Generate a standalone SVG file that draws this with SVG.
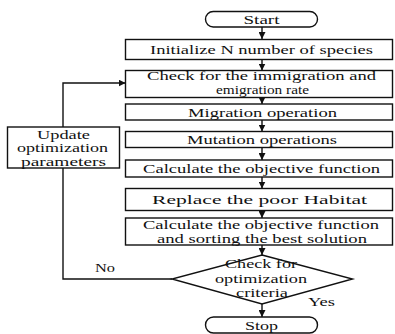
<svg xmlns="http://www.w3.org/2000/svg" width="395" height="334" viewBox="0 0 395 334">
<defs>
<marker id="ah" viewBox="0 0 10 10" refX="10" refY="5" markerWidth="7" markerHeight="7" markerUnits="userSpaceOnUse" orient="auto">
<path d="M0,0 L10,5 L0,10 z" fill="#111"/>
</marker>
<style>
.box{fill:#fff;stroke:#111;stroke-width:1.4}
.t{font-size:12.5px;fill:#111;text-anchor:middle}
.s{font-size:11.5px}
.c{fill:none;stroke:#111;stroke-width:1.4}
</style>
</defs>
<rect width="395" height="334" fill="#fff"/>
<g font-family="Liberation Serif, Times New Roman, DejaVu Serif, serif">
<g id="connectors">
<line class="c" x1="262" y1="27" x2="262" y2="39" marker-end="url(#ah)"/>
<line class="c" x1="262" y1="59.5" x2="262" y2="70.5" marker-end="url(#ah)"/>
<line class="c" x1="262" y1="97.5" x2="262" y2="104" marker-end="url(#ah)"/>
<line class="c" x1="262" y1="120" x2="262" y2="131.5" marker-end="url(#ah)"/>
<line class="c" x1="262" y1="147.5" x2="262" y2="160" marker-end="url(#ah)"/>
<line class="c" x1="262" y1="177" x2="262" y2="188.5" marker-end="url(#ah)"/>
<line class="c" x1="262" y1="210.5" x2="262" y2="218" marker-end="url(#ah)"/>
<line class="c" x1="262" y1="245" x2="262" y2="255" marker-end="url(#ah)"/>
<line class="c" x1="262" y1="304" x2="262" y2="317" marker-end="url(#ah)"/>
<polyline class="c" points="172,279 63,279 63,168"/>
<polyline class="c" points="63,127 63,83 125.5,83" marker-end="url(#ah)"/>
<text class="t" x="105" y="272" textLength="20" lengthAdjust="spacingAndGlyphs">No</text>
<text class="t" x="321.5" y="306" textLength="27" lengthAdjust="spacingAndGlyphs">Yes</text>
</g>
<g id="start">
<rect class="box" x="205.5" y="11.5" width="112" height="15.5" rx="7.75"/>
<text class="t" x="261.5" y="23.5" textLength="36" lengthAdjust="spacingAndGlyphs">Start</text>
</g>
<g id="init">
<rect class="box" x="125.5" y="39.5" width="267" height="20"/>
<text class="t" x="261.5" y="54" textLength="223" lengthAdjust="spacingAndGlyphs">Initialize N number of species</text>
</g>
<g id="check">
<rect class="box" x="125.5" y="70.5" width="267" height="27"/>
<text class="t" x="261.5" y="80" textLength="229" lengthAdjust="spacingAndGlyphs">Check for the immigration and</text>
<text class="t" x="262.5" y="94" textLength="93" lengthAdjust="spacingAndGlyphs">emigration rate</text>
</g>
<g id="migration">
<rect class="box" x="125.5" y="104" width="267" height="16"/>
<text class="t" x="262.5" y="116.5" textLength="149" lengthAdjust="spacingAndGlyphs">Migration operation</text>
</g>
<g id="mutation">
<rect class="box" x="125.5" y="131.5" width="267" height="16"/>
<text class="t" x="262" y="144" textLength="150" lengthAdjust="spacingAndGlyphs">Mutation operations</text>
</g>
<g id="calc">
<rect class="box" x="125.5" y="160" width="267" height="17"/>
<text class="t" x="261.5" y="173" textLength="237" lengthAdjust="spacingAndGlyphs">Calculate the objective function</text>
</g>
<g id="replace">
<rect class="box" x="125.5" y="188.5" width="267" height="22"/>
<text class="t" x="259.5" y="204" textLength="215" lengthAdjust="spacingAndGlyphs">Replace the poor Habitat</text>
</g>
<g id="calcsort">
<rect class="box" x="125.5" y="218" width="267" height="27"/>
<text class="t s" x="261" y="228.5" textLength="236" lengthAdjust="spacingAndGlyphs">Calculate the objective function</text>
<text class="t s" x="262" y="242.5" textLength="210" lengthAdjust="spacingAndGlyphs">and sorting the best solution</text>
</g>
<g id="decision">
<polygon class="box" points="262,255 352.5,279 262,304 172,279"/>
<text class="t s" x="261" y="268" textLength="72" lengthAdjust="spacingAndGlyphs">Check for</text>
<text class="t s" x="261" y="282.5" textLength="92" lengthAdjust="spacingAndGlyphs">optimization</text>
<text class="t s" x="262" y="297" textLength="52" lengthAdjust="spacingAndGlyphs">criteria</text>
</g>
<g id="stop">
<rect class="box" x="205.5" y="317" width="112" height="16" rx="8"/>
<text class="t" x="261.5" y="329.5" textLength="33" lengthAdjust="spacingAndGlyphs">Stop</text>
</g>
<g id="update">
<rect class="box" x="7.5" y="127" width="112" height="41"/>
<text class="t s" x="63.5" y="138.5" textLength="53" lengthAdjust="spacingAndGlyphs">Update</text>
<text class="t s" x="62.5" y="152" textLength="91" lengthAdjust="spacingAndGlyphs">optimization</text>
<text class="t s" x="63.5" y="165.5" textLength="85" lengthAdjust="spacingAndGlyphs">parameters</text>
</g>
</g>
</svg>
